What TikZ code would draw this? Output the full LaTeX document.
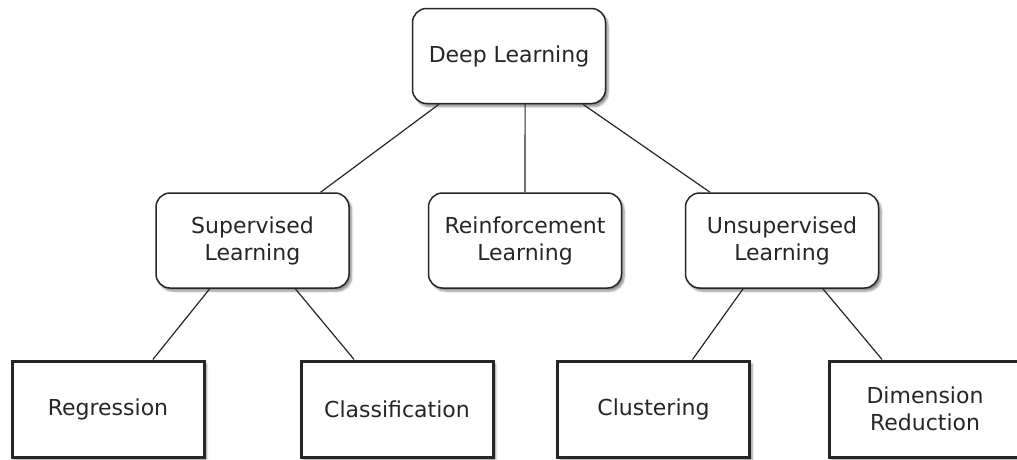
\documentclass[tikz,border=0pt]{standalone}
\usepackage{fontspec}
\setmainfont{DejaVu Sans}
\usetikzlibrary{shadows.blur,calc}
\begin{document}
\begin{tikzpicture}[x=1pt,y=-1pt,
  base/.style={draw=black!85, fill=white, text=black!85, align=center,
    font=\fontsize{22}{27}\selectfont, inner sep=0pt,
    blur shadow={shadow xshift=2.5pt, shadow yshift=-3pt, shadow blur steps=6,
      shadow blur radius=2pt, shadow opacity=45}},
  topic/.style={base, rounded corners=14pt, line width=1.5pt,
    minimum width=193pt, minimum height=95pt},
  leaf/.style={base, line width=3pt, minimum width=192pt, minimum height=96pt},
  link/.style={draw=black!85, line width=1.2pt}]
\useasboundingbox (0,0) rectangle (1017,459);
\clip (0,0) rectangle (1017,459);
\node[topic] (dl)  at (509,56)    {Deep Learning};
\node[topic] (sl)  at (252.5,240.5) {Supervised\\Learning};
\node[topic] (rl)  at (525,240.5) {Reinforcement\\Learning};
\node[topic] (ul)  at (782,240.5) {Unsupervised\\Learning};
\node[leaf]  (reg) at (108,409)   {Regression};
\node[leaf]  (cls) at (397,409)   {Classification};
\node[leaf]  (clu) at (653.5,409) {Clustering};
\node[leaf]  (dim) at (925,409)   {Dimension\\Reduction};
\draw[link] ($(dl.south west)!0.14!(dl.south east)$) -- ($(sl.north west)!0.85!(sl.north east)$);
\draw[link] ($(dl.south west)!0.583!(dl.south east)$) -- ($(rl.north west)!0.5!(rl.north east)$);
\draw[link] ($(dl.south west)!0.88!(dl.south east)$) -- ($(ul.north west)!0.13!(ul.north east)$);
\draw[link] ($(sl.south west)!0.28!(sl.south east)$) -- ($(reg.north west)!0.73!(reg.north east)$);
\draw[link] ($(sl.south west)!0.72!(sl.south east)$) -- ($(cls.north west)!0.28!(cls.north east)$);
\draw[link] ($(ul.south west)!0.30!(ul.south east)$) -- ($(clu.north west)!0.70!(clu.north east)$);
\draw[link] ($(ul.south west)!0.71!(ul.south east)$) -- ($(dim.north west)!0.28!(dim.north east)$);
\end{tikzpicture}
\end{document}
